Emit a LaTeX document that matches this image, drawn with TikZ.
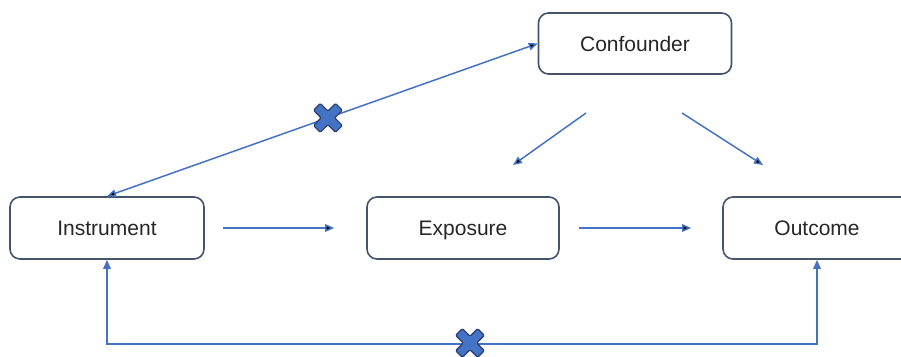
\documentclass[tikz,border=0pt]{standalone}
\usepackage{fontspec}
\setmainfont{Liberation Sans}
\usetikzlibrary{arrows.meta}

\definecolor{boxline}{HTML}{44546A}
\definecolor{arrowblue}{HTML}{4472C4}
\definecolor{crossline}{HTML}{2C3E6E}

% blocked path marker
\newcommand{\crossat}[1]{%
  \filldraw[fill=arrowblue, draw=crossline, line width=1.2pt, rounded corners=1.2pt, shift={(#1)}, rotate=45]
    (4.8,4.8) -- (4.8,15.6) -- (-4.8,15.6) -- (-4.8,4.8) -- (-15.6,4.8) -- (-15.6,-4.8)
    -- (-4.8,-4.8) -- (-4.8,-15.6) -- (4.8,-15.6) -- (4.8,-4.8) -- (15.6,-4.8) -- (15.6,4.8) -- cycle;}

\begin{document}
\begin{tikzpicture}[x=1pt,y=-1pt,>={Triangle[length=9pt,width=7.5pt]},
    main node/.style={rectangle,rounded corners=10pt,draw=boxline,line width=1.6pt,minimum height=62pt,inner sep=0pt,text height=15pt,text depth=0pt,font=\fontsize{21}{25}\selectfont,text=black!85},
    link/.style={draw=arrowblue,line width=1.5pt}]
        \useasboundingbox (0,0) rectangle (901,356);
        \clip (0,0) rectangle (901,356);
        \node [main node, minimum width=193pt, minimum height=61pt] (conf) at (635,43.5) {Confounder};
        \node [main node, minimum width=194pt] (inst) at (107,228) {Instrument};
        \node [main node, minimum width=192pt] (expo) at (463,228) {Exposure};
        \node [main node, minimum width=188pt] (outc) at (817,228) {Outcome};
        \coordinate (c1) at (586,113);
        \coordinate (e1) at (513,165);
        \coordinate (c2) at (682,113);
        \coordinate (o1) at (763,165);
        \path[link]
        (conf.west) edge [<->] coordinate [pos=0.487] (x1) (inst.north)
        (c1) edge [->] (e1)
        (c2) edge [->] (o1)
        (inst) edge [->, shorten <=18pt, shorten >=32pt] (expo)
        (expo) edge [->, shorten <=19pt, shorten >=31pt] (outc);
        \draw[link, <->] (inst.south) -- ++(0,84) coordinate (b1) -| (outc.south);
        \coordinate (x2) at (470,343);
        \crossat{x1}
        \crossat{x2}
    \end{tikzpicture}
\end{document}
